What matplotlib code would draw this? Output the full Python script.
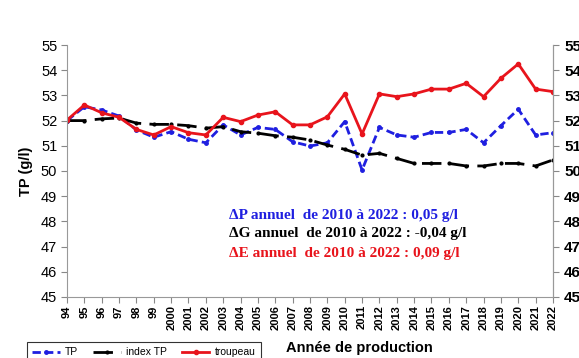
import matplotlib
matplotlib.use('Agg')
import matplotlib.pyplot as plt

plt.rcParams['font.family'] = ['Liberation Sans', 'DejaVu Sans']

# années de production
annees = ['94', '95', '96', '97', '98', '99', '2000', '2001', '2002', '2003',
          '2004', '2005', '2006', '2007', '2008', '2009', '2010', '2011', '2012',
          '2013', '2014', '2015', '2016', '2017', '2018', '2019', '2020', '2021',
          '2022']

# taux protéique (g/l)
tp = [52.0, 52.55, 52.42, 52.18, 51.63, 51.34, 51.56, 51.26, 51.12, 51.83,
      51.43, 51.73, 51.65, 51.16, 50.99, 51.12, 51.96, 50.04, 51.73, 51.43,
      51.34, 51.53, 51.53, 51.65, 51.12, 51.8, 52.45, 51.43, 51.52]
index_tp = [52.0, 52.0, 52.07, 52.1, 51.9, 51.85, 51.85, 51.8, 51.7, 51.76,
            51.56, 51.5, 51.4, 51.34, 51.23, 51.03, 50.86, 50.63, 50.7, 50.5,
            50.3, 50.3, 50.3, 50.2, 50.2, 50.3, 50.3, 50.2, 50.44]
troupeau = [52.02, 52.62, 52.31, 52.13, 51.65, 51.43, 51.76, 51.52, 51.43, 52.13,
            51.96, 52.22, 52.35, 51.83, 51.83, 52.15, 53.06, 51.47, 53.06, 52.95,
            53.06, 53.25, 53.25, 53.48, 52.95, 53.68, 54.25, 53.25, 53.15]

x = list(range(len(annees)))

fig = plt.figure(figsize=(5.79, 3.58), dpi=100)
ax = fig.add_axes([0.1157, 0.1704, 0.8394, 0.7039])

ax.plot(x, tp, color='#1f1fe0', lw=2, ls=(0, (3, 1.5)), marker='o', ms=2.5, label='TP')
ax.plot(x, index_tp, color='black', lw=2, ls=(0, (7, 3)), marker='o', ms=2, label='index TP')
ax.plot(x, troupeau, color='#e8141c', lw=2, marker='o', ms=3, label='troupeau')

ax.set_xlim(0, len(annees) - 1)
ax.set_ylim(45, 55)
ax.set_yticks(range(45, 56))
ax.set_xticks(x)
ax.set_xticklabels(annees, rotation=90, fontsize=8, fontweight='bold')
ax.tick_params(axis='y', labelsize=10.5, length=4, color='#888888', pad=3)
ax.tick_params(axis='x', length=4, color='#888888', pad=2)
ax.set_ylabel('TP (g/l)', fontsize=10.5, fontweight='bold', labelpad=6)

for s in ['left', 'bottom', 'right']:
    ax.spines[s].set_color('#999999')
ax.spines['top'].set_visible(False)

ax2 = ax.twinx()
ax2.set_ylim(45, 55)
ax2.set_yticks(range(45, 56))
ax2.tick_params(axis='y', labelsize=11, length=4, color='#888888', pad=4)
for lab in ax2.get_yticklabels():
    lab.set_fontweight('bold')
ax2.spines['right'].set_color('#999999')
ax2.spines['top'].set_visible(False)
ax2.spines['left'].set_visible(False)
ax2.spines['bottom'].set_visible(False)

# variations annuelles
txt = dict(family=['Liberation Serif', 'DejaVu Serif'], fontsize=11,
           fontweight='bold', transform=fig.transFigure, va='center', ha='left')
fig.text(0.395, 1 - 215 / 358, 'ΔP annuel  de 2010 à 2022 : 0,05 g/l', color='#1f1fe0', **txt)
fig.text(0.395, 1 - 234 / 358, 'ΔG annuel  de 2010 à 2022 : -0,04 g/l', color='black', **txt)
fig.text(0.395, 1 - 254 / 358, 'ΔE annuel  de 2010 à 2022 : 0,09 g/l', color='#e8141c', **txt)

fig.text(0.62, 1 - 348 / 358, 'Année de production', fontsize=10.5,
         fontweight='bold', ha='center', va='center')

leg = fig.legend(loc='upper left', bbox_to_anchor=(22 / 579, 1 - 337 / 358),
                 ncol=3, fontsize=7.5, frameon=True, fancybox=False,
                 handlelength=2.6, handletextpad=0.5, columnspacing=1.5,
                 borderpad=0.5)
leg.get_frame().set_edgecolor('black')
leg.get_frame().set_linewidth(0.8)

fig.savefig('out.png', dpi=100)
